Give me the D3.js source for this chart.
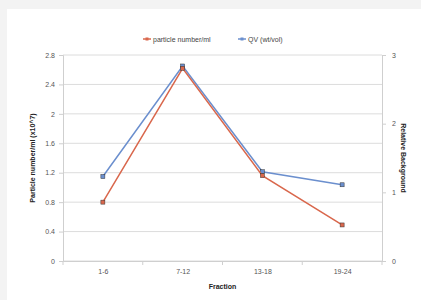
<!DOCTYPE html>
<html lang="en">
    <head>
        <meta charset="utf-8"/>
        <script src="https://d3js.org/d3.v7.min.js"></script>
        <style>
            body { margin: 0; background: #f3f3f3; }
            text { font-family: "Liberation Sans", Arial, sans-serif; }
        </style>
    </head>
    <body>
        <div id="chart"></div>
    </body>
    <script>
        // values
        var fractions = ["1-6", "7-12", "13-18", "19-24"];
        var particles = [0.8, 2.62, 1.16, 0.49];   // left axis
        var qv = [1.23, 2.84, 1.30, 1.11];         // right axis
        var leftTicks = [0, 0.4, 0.8, 1.2, 1.6, 2, 2.4, 2.8];
        var rightTicks = [0, 1, 2, 3];

        var W = 421, H = 300;
        var plot = {left: 63, right: 382, top: 55, bottom: 261};

        var svg = d3.select("#chart")
            .append("svg")
                .attr("width", W)
                .attr("height", H);

        // white chart area, gray strip on top and left
        svg.append("rect")
            .attr("x", 7).attr("y", 9)
            .attr("width", W - 7).attr("height", H - 9)
            .attr("fill", "#fff");

        var x = d3.scalePoint()
            .domain(fractions)
            .range([plot.left, plot.right])
            .padding(0.5);

        var yL = d3.scaleLinear().domain([0, 2.8]).range([plot.bottom, plot.top]);
        var yR = d3.scaleLinear().domain([0, 3]).range([plot.bottom, plot.top]);

        // gridlines
        svg.append("g")
            .selectAll("line")
            .data(leftTicks)
            .enter()
            .append("line")
                .attr("x1", plot.left).attr("x2", plot.right)
                .attr("y1", function (d) { return yL(d); })
                .attr("y2", function (d) { return yL(d); })
                .attr("stroke", "#dcdcdc");

        var gl = svg.append("g")
            .attr("transform", "translate(" + plot.left + ",0)")
            .call(d3.axisLeft(yL).tickValues(leftTicks).tickSize(4).tickPadding(4)
                .tickFormat(function (d) { return String(d); }));

        var gr = svg.append("g")
            .attr("transform", "translate(" + plot.right + ",0)")
            .call(d3.axisRight(yR).tickValues(rightTicks).tickSize(4).tickPadding(6)
                .tickFormat(d3.format("d")));

        var bw = x.step();
        var gx = svg.append("g")
            .attr("transform", "translate(0," + plot.bottom + ")")
            .call(d3.axisBottom(x).tickSize(0).tickPadding(8));

        // category boundary ticks
        svg.append("g")
            .selectAll("line")
            .data(d3.range(fractions.length + 1))
            .enter()
            .append("line")
                .attr("x1", function (i) { return plot.left + i * bw; })
                .attr("x2", function (i) { return plot.left + i * bw; })
                .attr("y1", plot.bottom).attr("y2", plot.bottom + 4)
                .attr("stroke", "#cfcfcf");

        [gl, gr, gx].forEach(function (g) {
            g.select(".domain").attr("stroke", "#cfcfcf");
            g.selectAll(".tick line").attr("stroke", "#cfcfcf");
            g.selectAll("text").attr("font-size", 7).attr("fill", "#555");
        });

        // lines
        function drawSeries(vals, yScale, color) {
            var line = d3.line()
                .x(function (d, i) { return x(fractions[i]); })
                .y(function (d) { return yScale(d); });
            svg.append("path")
                .datum(vals)
                .attr("d", line)
                .attr("fill", "none")
                .attr("stroke", color)
                .attr("stroke-width", 1.5);
            svg.selectAll(null)
                .data(vals)
                .enter()
                .append("rect")
                    .attr("x", function (d, i) { return x(fractions[i]) - 2; })
                    .attr("y", function (d) { return yScale(d) - 2; })
                    .attr("width", 4).attr("height", 4)
                    .attr("fill", color)
                    .attr("stroke", "#333")
                    .attr("stroke-width", 0.5);
        }
        drawSeries(qv, yR, "#6b8fce");
        drawSeries(particles, yL, "#d9674c");

        // axis titles
        svg.append("text")
            .attr("transform", "translate(35," + (plot.top + plot.bottom) / 2 + ") rotate(-90)")
            .attr("text-anchor", "middle")
            .attr("font-size", 7).attr("font-weight", "bold").attr("fill", "#222")
            .text("Particle number/ml (x10^7)");

        svg.append("text")
            .attr("transform", "translate(401," + (plot.top + plot.bottom) / 2 + ") rotate(90)")
            .attr("text-anchor", "middle")
            .attr("font-size", 7).attr("font-weight", "bold").attr("fill", "#222")
            .text("Relative Background");

        svg.append("text")
            .attr("x", (plot.left + plot.right) / 2)
            .attr("y", 289)
            .attr("text-anchor", "middle")
            .attr("font-size", 7).attr("font-weight", "bold").attr("fill", "#222")
            .text("Fraction");

        // legend
        var legend = [
            {name: "particle number/ml", color: "#d9674c", x: 143},
            {name: "QV (wt/vol)", color: "#6b8fce", x: 238}
        ];
        var lg = svg.append("g").selectAll("g")
            .data(legend)
            .enter()
            .append("g")
                .attr("transform", function (d) { return "translate(" + d.x + ",39)"; });
        lg.append("line")
            .attr("x1", 0).attr("x2", 8)
            .attr("stroke", function (d) { return d.color; })
            .attr("stroke-width", 1.5);
        lg.append("rect")
            .attr("x", 2.5).attr("y", -1.5).attr("width", 3).attr("height", 3)
            .attr("fill", function (d) { return d.color; });
        lg.append("text")
            .attr("x", 10).attr("y", 2.5)
            .attr("font-size", 7).attr("fill", "#444")
            .text(function (d) { return d.name; });
    </script>
</html>
